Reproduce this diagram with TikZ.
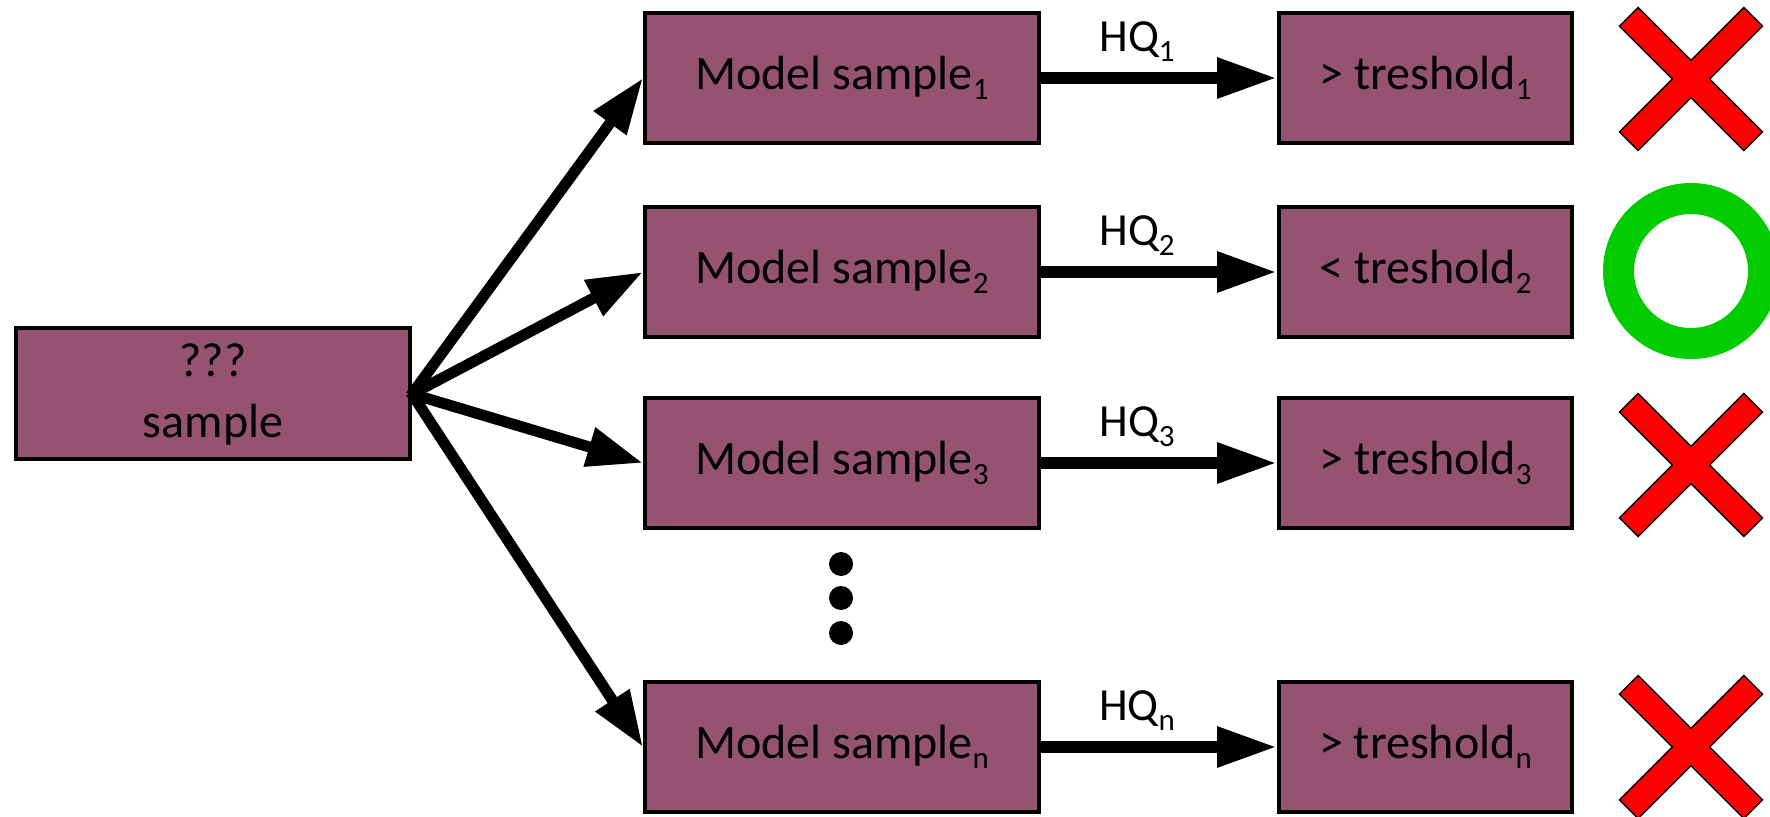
\documentclass[tikz,border=0pt]{standalone}
\usepackage{fontspec}
\setmainfont{Carlito}
\usetikzlibrary{arrows.meta}
\definecolor{boxfill}{RGB}{149,82,113}
\definecolor{okgreen}{RGB}{0,204,0}
\newcommand{\lowsub}[1]{\raisebox{-0.22em}{\fontsize{15.5}{16}\selectfont #1}}
\tikzset{
  box/.style={draw=black, line width=2pt, fill=boxfill, minimum height=65pt, inner sep=0pt, font=\fontsize{24}{30.5}\selectfont, align=center},
  modelbox/.style={box, minimum width=197pt},
  threshbox/.style={box, minimum width=146.5pt},
  hqlabel/.style={inner sep=0pt, font=\fontsize{23}{28}\selectfont},
  harrow/.style={line width=6pt, -{Triangle[length=30pt,width=19pt]}},
  darrow/.style={line width=5.5pt, -{Triangle[length=28pt,width=19pt]}, shorten <=-1pt},
  dotnode/.style={circle, fill=black, minimum size=12pt, inner sep=0pt},
  crossmark/.pic={
    \draw[fill=red, draw=black, line width=0.7pt, rotate=45]
      (44pt,6.6pt) -- (6.6pt,6.6pt) -- (6.6pt,44pt) -- (-6.6pt,44pt) -- (-6.6pt,6.6pt) -- (-44pt,6.6pt)
      -- (-44pt,-6.6pt) -- (-6.6pt,-6.6pt) -- (-6.6pt,-44pt) -- (6.6pt,-44pt) -- (6.6pt,-6.6pt) -- (44pt,-6.6pt) -- cycle;
  }
}
\begin{document}
\begin{tikzpicture}[x=0.5pt, y=-0.5pt]
\useasboundingbox (0,0) rectangle (1770,817);
% left box
\node[modelbox, minimum height=65.5pt] (src) at (213,394) {???\\sample};
% model boxes
\node[modelbox] (m1) at (842,78) {Model sample\lowsub{1}};
\node[modelbox] (m2) at (842,272) {Model sample\lowsub{2}};
\node[modelbox] (m3) at (842,463) {Model sample\lowsub{3}};
\node[modelbox] (mn) at (842,747) {Model sample\lowsub{n}};
% threshold boxes
\node[threshbox] (t1) at (1425.5,78) {> treshold\lowsub{1}};
\node[threshbox] (t2) at (1425.5,272) {< treshold\lowsub{2}};
\node[threshbox] (t3) at (1425.5,463) {> treshold\lowsub{3}};
\node[threshbox] (tn) at (1425.5,747) {> treshold\lowsub{n}};
% HQ arrows
\draw[harrow] (m1.east) -- (t1.west);
\draw[harrow] (m2.east) -- (t2.west);
\draw[harrow] (m3.east) -- (t3.west);
\draw[harrow] (mn.east) -- (tn.west);
\node[hqlabel] (h1) at (1137,42) {HQ\lowsub{1}};
\node[hqlabel] (h2) at (1137,236) {HQ\lowsub{2}};
\node[hqlabel] (h3) at (1137,427) {HQ\lowsub{3}};
\node[hqlabel] (hn) at (1137,711) {HQ\lowsub{n}};
% diagonal arrows
\draw[darrow] (src.east) -- (m1.west);
\draw[darrow] (src.east) -- (m2.west);
\draw[darrow] (src.east) -- (m3.west);
\draw[darrow] (src.east) -- (mn.west);
% dots
\node[dotnode] (d1) at (841,564) {};
\node[dotnode] (d2) at (841,598) {};
\node[dotnode] (d3) at (841,633) {};
% marks
\pic at (1691,79) {crossmark};
\pic at (1691,465) {crossmark};
\pic at (1691,747) {crossmark};
\draw[okgreen, line width=15.5pt] (1691,271) circle[radius=36.25pt];
\end{tikzpicture}
\end{document}
